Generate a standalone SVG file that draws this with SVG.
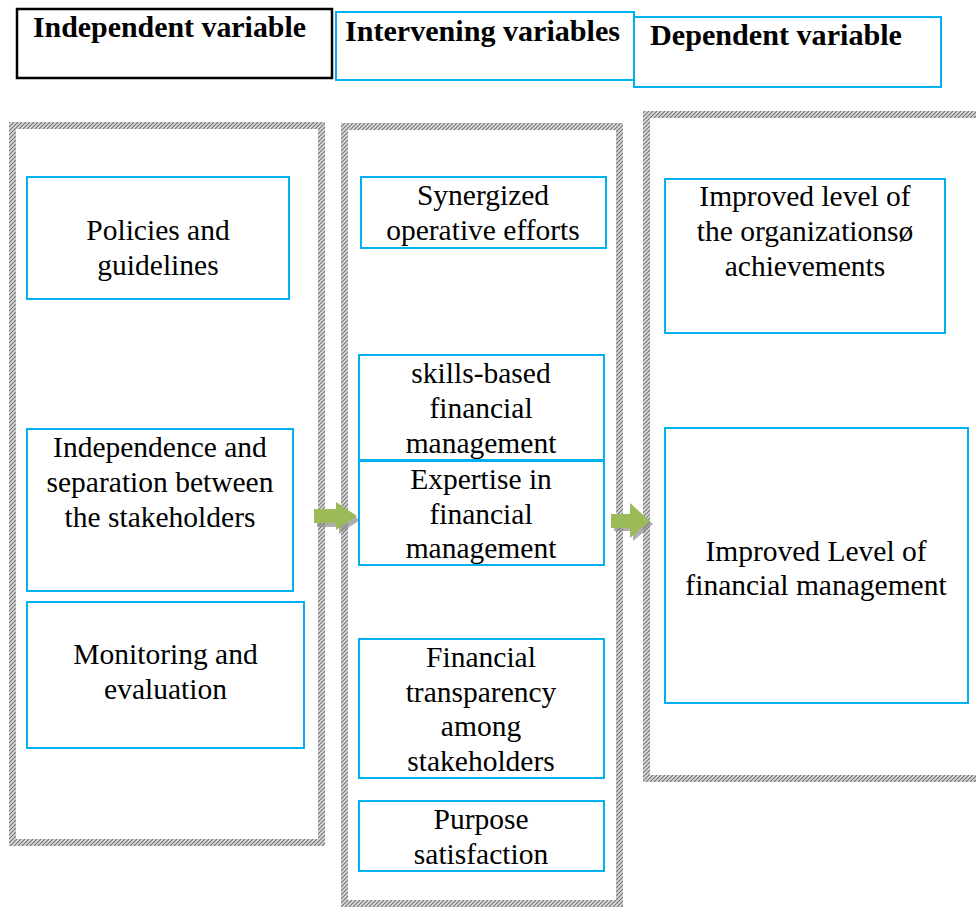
<svg xmlns="http://www.w3.org/2000/svg" width="976" height="909" viewBox="0 0 976 909">
<style>
.box{fill:#fff;stroke:#00B0F0;stroke-width:2}
.hbox{fill:#fff;stroke:#000;stroke-width:2.5}
.panel{fill:none;stroke:url(#hatch);stroke-width:7}
.t{font-family:"Liberation Serif","Times New Roman",serif;font-size:29.5px;fill:#000;text-anchor:middle}
.h{font-family:"Liberation Serif","Times New Roman",serif;font-size:29px;font-weight:bold;fill:#000}
.arr{fill:#9BBB59}
.shd{fill:#8c8c8c;opacity:0.7}
</style>
<defs>
<pattern id="hatch" patternUnits="userSpaceOnUse" width="4" height="4">
<rect width="4" height="4" fill="#dcdcdc"/>
<path d="M-1,1 l2,-2 M0,4 l4,-4 M3,5 l2,-2" stroke="#727272" stroke-width="1.1"/>
</pattern>
</defs>
<rect width="976" height="909" fill="#fff"/>
<g id="panels">
<rect class="panel" x="12.5" y="125.5" width="309" height="717"/>
<rect class="panel" x="344.5" y="126.5" width="275" height="777"/>
<rect class="panel" x="646.5" y="114.5" width="340" height="664"/>
</g>
<g id="header-independent">
<rect class="hbox" x="17" y="9" width="315" height="69"/>
<text class="h" x="33" y="37" textLength="273" lengthAdjust="spacingAndGlyphs">Independent variable</text>
</g>
<g id="header-intervening">
<rect class="box" x="336" y="12" width="298" height="68"/>
<text class="h" x="345" y="41" textLength="275" lengthAdjust="spacingAndGlyphs">Intervening variables</text>
</g>
<g id="header-dependent">
<rect class="box" x="634" y="17" width="307" height="70"/>
<text class="h" x="650" y="45" textLength="252" lengthAdjust="spacingAndGlyphs">Dependent variable</text>
</g>
<g id="policies">
<rect class="box" x="27" y="177" width="262" height="122"/>
<text class="t" x="158" y="240">Policies and</text>
<text class="t" x="158" y="275">guidelines</text>
</g>
<g id="independence">
<rect class="box" x="27" y="429" width="266" height="162"/>
<text class="t" x="160" y="457">Independence and</text>
<text class="t" x="160" y="492">separation between</text>
<text class="t" x="160" y="527">the stakeholders</text>
</g>
<g id="monitoring">
<rect class="box" x="27" y="602" width="277" height="146"/>
<text class="t" x="165.5" y="664">Monitoring and</text>
<text class="t" x="165.5" y="699">evaluation</text>
</g>
<g id="synergized">
<rect class="box" x="361" y="177" width="245" height="71"/>
<text class="t" x="483" y="205">Synergized</text>
<text class="t" x="483" y="240">operative efforts</text>
</g>
<g id="skills">
<rect class="box" x="359" y="355" width="245" height="105"/>
<text class="t" x="481" y="383">skills-based</text>
<text class="t" x="481" y="418">financial</text>
<text class="t" x="481" y="453">management</text>
</g>
<g id="expertise">
<rect class="box" x="359" y="461" width="245" height="104"/>
<text class="t" x="481" y="489">Expertise in</text>
<text class="t" x="481" y="524">financial</text>
<text class="t" x="481" y="558">management</text>
</g>
<g id="transparency">
<rect class="box" x="359" y="639" width="245" height="139"/>
<text class="t" x="481" y="667">Financial</text>
<text class="t" x="481" y="702">transparency</text>
<text class="t" x="481" y="736">among</text>
<text class="t" x="481" y="771">stakeholders</text>
</g>
<g id="purpose">
<rect class="box" x="359" y="801" width="245" height="70"/>
<text class="t" x="481" y="829">Purpose</text>
<text class="t" x="481" y="864">satisfaction</text>
</g>
<g id="achievements">
<rect class="box" x="665" y="179" width="280" height="154"/>
<text class="t" x="805" y="206">Improved level of</text>
<text class="t" x="805" y="241">the organizationsø</text>
<text class="t" x="805" y="276">achievements</text>
</g>
<g id="financial-management">
<rect class="box" x="665" y="428" width="303" height="275"/>
<text class="t" x="816" y="561">Improved Level of</text>
<text class="t" x="816" y="595">financial management</text>
</g>
<g id="connectors">
<polygon class="shd" points="317,513 339,513 339,506 360,520 339,534 339,527 317,527"/>
<polygon class="arr" points="314,509 336,509 336,502 357,516 336,530 336,523 314,523"/>
<polygon class="shd" points="614,517 633,517 633,507 653,524 633,541 633,531 614,531"/>
<polygon class="arr" points="611,514 630,514 630,503 650,521 630,538 630,528 611,528"/>
</g>
</svg>
